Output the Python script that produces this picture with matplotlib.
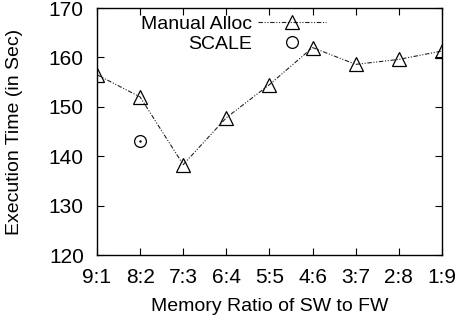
import matplotlib
matplotlib.use('Agg')
import matplotlib.pyplot as plt

plt.rcParams['font.family'] = ['Liberation Sans', 'DejaVu Sans']

ratios = ['9:1', '8:2', '7:3', '6:4', '5:5', '4:6', '3:7', '2:8', '1:9']
manual_alloc = [156.5, 152.0, 138.3, 147.8, 154.5, 162.0, 158.6, 159.6, 161.3]
scale_x = ['8:2']
scale_y = [143.1]

fig = plt.figure(figsize=(4.56, 3.22), dpi=100)
ax = fig.add_axes([0.2127, 0.208, 0.7563, 0.767])

xpos = list(range(len(ratios)))
ax.plot(xpos, manual_alloc, color='#222222', lw=0.8, dashes=(4, 1.5, 1, 1.5, 1, 1.5),
        marker='^', markersize=9.5, markerfacecolor='none', markeredgecolor='black',
        markeredgewidth=0.9, label='Manual Alloc')
ax.plot([ratios.index(r) for r in scale_x], scale_y, linestyle='none', marker='o',
        markersize=8.5, markerfacecolor='none', markeredgecolor='black',
        markeredgewidth=0.9, label='SCALE')
# small dot in middle of the circle
ax.plot([ratios.index(r) for r in scale_x], scale_y, linestyle='none', marker='.',
        markersize=1.5, color='black')

ax.set_xlim(0, len(ratios) - 1)
ax.set_ylim(120, 170)
ax.set_xticks(xpos)
ax.set_xticklabels(ratios)
ax.set_yticks([120, 130, 140, 150, 160, 170])
ax.tick_params(direction='in', top=True, right=True, length=5, width=0.8,
               labelsize=15, pad=9.5)
for s in ax.spines.values():
    s.set_linewidth(1.0)

ax.set_xlabel('Memory Ratio of SW to FW', fontsize=14)
ax.set_ylabel('Execution Time (in Sec)', fontsize=14)
ax.xaxis.set_label_coords(0.5, -0.172)
ax.yaxis.set_label_coords(-0.215, 0.5)

ax.legend(loc='upper right', bbox_to_anchor=(326 / 456, 1 - 15 / 322),
          bbox_transform=fig.transFigure, frameon=False, markerfirst=False,
          numpoints=1, handlelength=3.5, handletextpad=0.3, labelspacing=0.12,
          borderpad=0, borderaxespad=0, fontsize=14)

fig.savefig('out.png', dpi=100)
